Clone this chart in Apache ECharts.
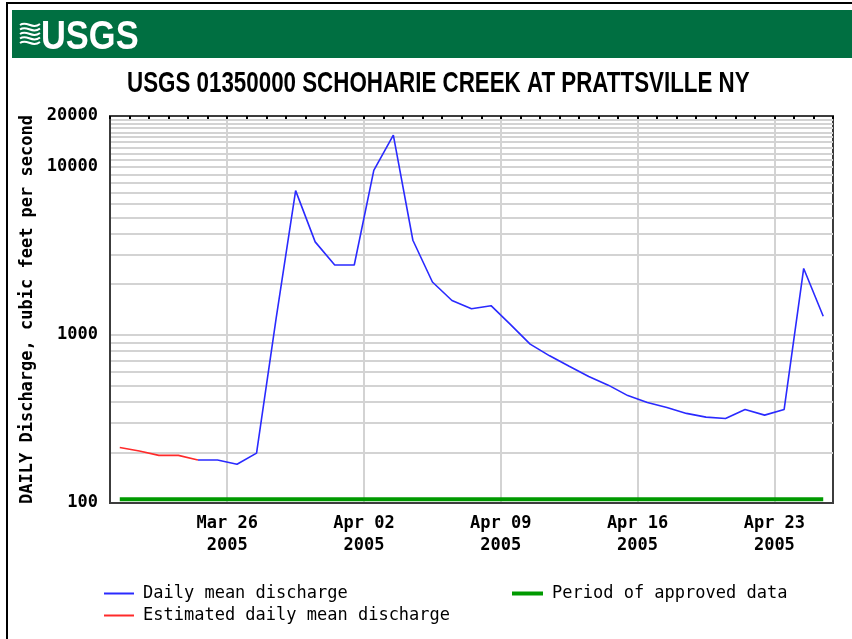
<!DOCTYPE html>
<html>
<head>
<meta charset="utf-8">
<script src="https://cdn.jsdelivr.net/npm/echarts@6/dist/echarts.min.js"></script>
<style>
html,body{margin:0;padding:0;background:#fff;}
#chart{width:852px;height:639px;}
</style>
</head>
<body>
<div id="chart"></div>
<script>
// ---- data ----
const dates = [
  '2005-03-20','2005-03-21','2005-03-22','2005-03-23','2005-03-24','2005-03-25','2005-03-26',
  '2005-03-27','2005-03-28','2005-03-29','2005-03-30','2005-03-31','2005-04-01','2005-04-02',
  '2005-04-03','2005-04-04','2005-04-05','2005-04-06','2005-04-07','2005-04-08','2005-04-09',
  '2005-04-10','2005-04-11','2005-04-12','2005-04-13','2005-04-14','2005-04-15','2005-04-16',
  '2005-04-17','2005-04-18','2005-04-19','2005-04-20','2005-04-21','2005-04-22','2005-04-23',
  '2005-04-24','2005-04-25'
];
const discharge = [
  214, 204, 192, 192, 180, 180, 170,
  198, 1250, 7200, 3570, 2600, 2600, 9500,
  15400, 3650, 2060, 1600, 1430, 1490, 1150,
  880, 750, 650, 565, 502, 435, 396,
  370, 341, 324, 318, 360, 333, 360,
  2480, 1290
];
const estimatedThrough = '2005-03-24';
const axisStartDate = '2005-03-20';
const axisEndDate = '2005-04-26';
const tickDates = ['2005-03-26','2005-04-02','2005-04-09','2005-04-16','2005-04-23'];
const tickLabels = ['Mar 26\n2005','Apr 02\n2005','Apr 09\n2005','Apr 16\n2005','Apr 23\n2005'];
const yLabelValues = [100, 1000, 10000, 20000];
const yGridValues = [100,200,300,400,500,600,700,800,900,
  1000,2000,3000,4000,5000,6000,7000,8000,9000,
  10000,11000,12000,13000,14000,15000,16000,17000,18000,19000,20000];
const titleText = 'USGS 01350000 SCHOHARIE CREEK AT PRATTSVILLE NY';
const yAxisTitle = 'DAILY Discharge, cubic feet per second';
const seriesNames = ['Daily mean discharge','Estimated daily mean discharge','Period of approved data'];

// ---- helpers ----
const DAY = 86400000;
const origin = Date.parse(tickDates[0]);
const dayOf = d => (Date.parse(d) - origin) / DAY;
const noon = d => dayOf(d) + 0.5;

const estPts = [], dailyPts = [];
dates.forEach((d, i) => {
  const p = [noon(d), discharge[i]];
  if (d <= estimatedThrough) estPts.push(p);
  if (d >= estimatedThrough) dailyPts.push(p);
});
const approvedPts = [[noon(dates[0]), 1], [noon(dates[dates.length - 1]), 1]];
const tickVals = tickDates.map(dayOf);

const MONO = "'DejaVu Sans Mono','Liberation Mono',monospace";
const SANS = "'Liberation Sans','Arial',sans-serif";

const chart = echarts.init(document.getElementById('chart'), null, {renderer: 'canvas'});

// wave logo lines
const waves = [];
for (let i = 0; i < 5; i++) {
  const y = 25 + i * 4.5;
  waves.push({
    type: 'bezierCurve',
    shape: {x1: 20, y1: y, cpx1: 27, cpy1: y - 5, cpx2: 32, cpy2: y + 5, x2: 40, y2: y - 1},
    style: {stroke: '#fff', lineWidth: 2, fill: null}
  });
}

const legendText = {fontFamily: MONO, fontSize: 17, color: '#000', padding: [0,0,0,4]};

chart.setOption({
  animation: false,
  backgroundColor: '#fff',
  graphic: [
    {type: 'line', shape: {x1: 6, y1: 3, x2: 852, y2: 3}, style: {stroke: '#000', lineWidth: 2}},
    {type: 'line', shape: {x1: 7, y1: 3, x2: 7, y2: 639}, style: {stroke: '#000', lineWidth: 2}},
    {type: 'rect', shape: {x: 12, y: 10, width: 840, height: 48}, style: {fill: '#006f41'}},
    ...waves,
    {type: 'text', x: 41, y: 17, scaleX: 0.84,
      style: {text: 'USGS', fill: '#fff', font: 'bold 41px ' + SANS}},
    {type: 'text', x: 127, y: 69, scaleX: 0.745,
      style: {text: titleText, fill: '#000', font: 'bold 30px ' + SANS}}
  ],
  legend: [
    {
      data: [seriesNames[0], seriesNames[1]],
      orient: 'vertical', left: 104, top: 585, padding: 0,
      icon: 'rect', itemWidth: 30, itemHeight: 2, itemGap: 5,
      textStyle: legendText
    },
    {
      data: [seriesNames[2]],
      orient: 'vertical', left: 512, top: 585, padding: 0,
      icon: 'rect', itemWidth: 31, itemHeight: 4,
      textStyle: legendText
    }
  ],
  grid: {
    left: 110, top: 116, width: 723, height: 387,
    show: true, borderColor: '#3c3c3c', borderWidth: 2, backgroundColor: '#fff'
  },
  xAxis: [
    {
      type: 'value', min: dayOf(axisStartDate), max: dayOf(axisEndDate),
      axisLine: {show: true, onZero: false, lineStyle: {color: '#3c3c3c', width: 2}},
      axisTick: {show: false, customValues: tickVals},
      axisLabel: {
        customValues: tickVals, margin: 10,
        formatter: v => tickLabels[tickVals.indexOf(v)] || '',
        fontFamily: MONO, fontWeight: 'bold', fontSize: 17, lineHeight: 22, color: '#000'
      },
      splitLine: {show: true, lineStyle: {color: '#d3d3d3', width: 2}}
    },
    {
      type: 'value', position: 'top', min: dayOf(axisStartDate), max: dayOf(axisEndDate), interval: 1,
      axisLine: {show: true, onZero: false, lineStyle: {color: '#3c3c3c', width: 2}},
      axisTick: {show: true, inside: true, length: 3, lineStyle: {color: '#000', width: 2}},
      axisLabel: {show: false},
      splitLine: {show: false}
    }
  ],
  yAxis: [
    {
      type: 'log', logBase: 10, min: 100, max: 20000,
      name: yAxisTitle, nameLocation: 'middle', nameRotate: 90, nameGap: 73,
      nameTextStyle: {fontFamily: MONO, fontWeight: 'bold', fontSize: 17, color: '#000'},
      axisLine: {show: true, onZero: false, lineStyle: {color: '#3c3c3c', width: 2}},
      axisTick: {show: false, customValues: yGridValues},
      axisLabel: {
        customValues: yLabelValues, margin: 12,
        formatter: v => String(Math.round(v)),
        fontFamily: MONO, fontWeight: 'bold', fontSize: 17, color: '#000'
      },
      splitLine: {show: true, lineStyle: {color: '#d3d3d3', width: 2}}
    },
    {
      type: 'value', min: 0, max: 100, show: false
    }
  ],
  series: [
    {
      name: seriesNames[0], type: 'line', data: dailyPts, symbol: 'none',
      lineStyle: {color: '#2a2aff', width: 1.6}, itemStyle: {color: '#2a2aff'}, z: 4
    },
    {
      name: seriesNames[1], type: 'line', data: estPts, symbol: 'none',
      lineStyle: {color: '#ff2a2a', width: 1.6}, itemStyle: {color: '#ff2a2a'}, z: 4
    },
    {
      name: seriesNames[2], type: 'line', yAxisIndex: 1, data: approvedPts, symbol: 'none',
      lineStyle: {color: '#009a00', width: 4}, itemStyle: {color: '#009a00'}, z: 3
    }
  ]
});
</script>
</body>
</html>
